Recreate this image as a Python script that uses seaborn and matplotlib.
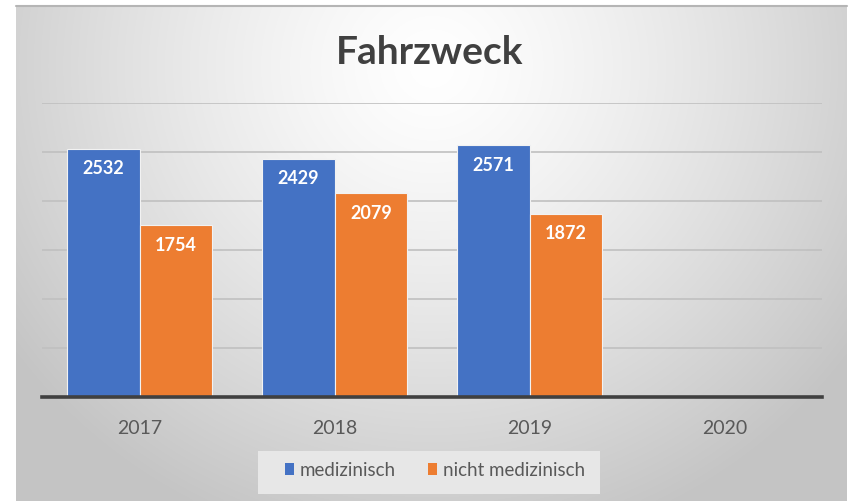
import numpy as np
import pandas as pd
import matplotlib
matplotlib.use("Agg")
import matplotlib.pyplot as plt
from matplotlib.patches import Patch, Rectangle
import seaborn as sns

years = ["2017", "2018", "2019", "2020"]
medizinisch = [2532, 2429, 2571, np.nan]
nicht_medizinisch = [1754, 2079, 1872, np.nan]
series_names = ["medizinisch", "nicht medizinisch"]
colors = ["#4472C4", "#ED7D31"]
title = "Fahrzweck"

df = pd.DataFrame({
    "Jahr": years * 2,
    "Wert": medizinisch + nicht_medizinisch,
    "Serie": [series_names[0]] * 4 + [series_names[1]] * 4,
})

sns.set_theme(style="white")
plt.rcParams["font.family"] = ["Lato", "DejaVu Sans"]

W, H = 850, 502
fig = plt.figure(figsize=(W / 100, H / 100), dpi=100)
fig.patch.set_facecolor("white")

# background gradient panel
bg = fig.add_axes([16 / W, 0, (847 - 16) / W, (H - 7) / H])
bg.set_axis_off()
ny, nx = 300, 500
yy, xx = np.mgrid[0:ny, 0:nx]
cx, cy = nx * 0.5, ny * 0.12
d = np.sqrt(((xx - cx) / (nx * 0.62)) ** 2 + ((yy - cy) / (ny * 1.0)) ** 2)
d = np.clip(d, 0, 1)
v = 1.0 - d ** 1.3 * (1.0 - 0.77)
img = np.dstack([v, v, v])
bg.imshow(img, aspect="auto", extent=[0, 1, 0, 1], origin="upper", interpolation="bicubic")
bg.set_xlim(0, 1)
bg.set_ylim(0, 1)
bg.plot([0, 1], [1, 1], color="#b5b5b5", lw=1.5, transform=bg.transAxes, clip_on=False)

# main axes
left, right, base, topv = 42, 822, 398, 104
ax = fig.add_axes([left / W, (H - base) / H, (right - left) / W, (base - topv) / H])
ax.patch.set_alpha(0)
sns.barplot(data=df, x="Jahr", y="Wert", hue="Serie", order=years,
            hue_order=series_names, palette=colors, saturation=1, width=0.745, gap=0,
            edgecolor="#f2f2f2", linewidth=0.8, ax=ax, legend=False, errorbar=None)
ax.set_ylim(0, 3000)
ax.set_xlim(-0.5, 3.5)
ax.set_yticks(np.arange(500, 3001, 500))
ax.yaxis.grid(True, color="#c0c0c0", lw=1.2)
ax.set_axisbelow(True)
ax.tick_params(axis="y", left=False, labelleft=False)
ax.tick_params(axis="x", bottom=False, labelsize=14, colors="#595959", pad=10)
for s in ["top", "right", "left"]:
    ax.spines[s].set_visible(False)
ax.spines["bottom"].set_color("#404040")
ax.spines["bottom"].set_linewidth(2.6)
ax.set_xlabel("")
ax.set_ylabel("")

for cont in ax.containers:
    for bar in cont:
        h = bar.get_height()
        if np.isnan(h) or h <= 0:
            continue
        ax.annotate(f"{int(h)}", (bar.get_x() + bar.get_width() / 2, h),
                    xytext=(0, -19), textcoords="offset pixels",
                    ha="center", va="center", color="white", fontsize=13,
                    fontweight="bold")

fig.text(430 / W, 1 - 52 / H, title, ha="center", va="center", fontsize=28,
         fontweight="bold", color="#404040")

# legend background box
fig.patches.append(Rectangle((258 / W, 1 - 495 / H), (600 - 258) / W, (495 - 452) / H,
                             transform=fig.transFigure, facecolor="#e7e7e7",
                             edgecolor="none", zorder=1))
handles = [Patch(facecolor=c, edgecolor="none") for c in colors]
leg = fig.legend(handles, series_names, loc="center", bbox_to_anchor=(435 / W, 1 - 471 / H),
                 ncol=2, frameon=False, fontsize=13.5, handlelength=0.5, handleheight=0.65,
                 handletextpad=0.3, columnspacing=1.7, borderpad=0.2, labelcolor="#595959")
leg.set_zorder(5)

fig.savefig("out.png", dpi=100)
